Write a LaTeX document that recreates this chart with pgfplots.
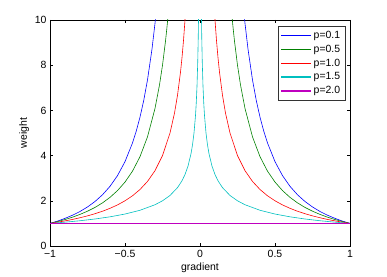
\documentclass[border=0pt]{standalone}
\usepackage{fontspec}
\setmainfont{Liberation Sans}
\usepackage{pgfplots}
\pgfplotsset{compat=1.18}
\definecolor{mblue}{rgb}{0,0,1}
\definecolor{mgreen}{rgb}{0,0.5,0}
\definecolor{mred}{rgb}{1,0,0}
\definecolor{mcyan}{rgb}{0,0.75,0.75}
\definecolor{mmag}{rgb}{0.75,0,0.75}
\begin{document}
\begin{tikzpicture}
\begin{axis}[
 scale only axis, width=300bp, height=226bp,
 xmin=-1,xmax=1,ymin=0,ymax=10,
 xtick={-1,-0.5,0,0.5,1}, xticklabels={−1,−0.5,0,0.5,1},
 ytick={0,2,4,6,8,10}, yticklabels={0,2,4,6,8,10},
 font=\fontsize{10.5}{12}\selectfont,
 tick label style={font=\fontsize{10.5}{12}\selectfont},
 xticklabel style={yshift=-1bp},
 xlabel={gradient}, ylabel={weight},
 xlabel style={yshift=2bp},
 ylabel style={yshift=-1bp},
 major tick length=3bp,
 tick style={black, line width=0.4pt},
 axis line style={line width=0.5pt},
 unbounded coords=jump,
 legend style={at={(rel axis cs:0.983,0.973)}, anchor=north east, draw=black!80, font=\fontsize{10.5}{12}\selectfont, row sep=1.2bp, inner sep=2.5bp},
 legend cell align=left,
 legend image code/.code={\draw[#1,line width=1.3pt] (0bp,0bp) -- (30bp,0bp);},
]
\addplot[draw=mblue, line width=0.6pt] coordinates {(-1,1) (-0.95,1.102) (-0.9,1.222) (-0.85,1.362) (-0.8,1.528) (-0.75,1.727) (-0.7,1.969) (-0.65,2.267) (-0.6,2.640) (-0.55,3.114) (-0.5,3.732) (-0.45,4.560) (-0.425,5.083) (-0.4,5.703) (-0.375,6.446) (-0.35,7.350) (-0.32,8.713) (-0.3,9.851) (-0.29,10.51) (0,nan)
 (0.29,10.51) (0.3,9.851) (0.32,8.713) (0.35,7.350) (0.375,6.446) (0.4,5.703) (0.425,5.083) (0.45,4.560) (0.5,3.732) (0.55,3.114) (0.6,2.640) (0.65,2.267) (0.7,1.969) (0.75,1.727) (0.8,1.528) (0.85,1.362) (0.9,1.222) (0.95,1.102) (1,1)};
\addlegendentry{p=0.1}
\addplot[draw=mgreen, line width=0.6pt] coordinates {(-1,1) (-0.95,1.080) (-0.9,1.171) (-0.85,1.276) (-0.8,1.398) (-0.75,1.540) (-0.7,1.707) (-0.65,1.908) (-0.6,2.152) (-0.55,2.452) (-0.5,2.828) (-0.45,3.313) (-0.4,3.953) (-0.35,4.830) (-0.3,6.086) (-0.27,7.128) (-0.25,8) (-0.23,9.066) (-0.22,9.691) (-0.21,10.39) (0,nan)
 (0.21,10.39) (0.22,9.691) (0.23,9.066) (0.25,8) (0.27,7.128) (0.3,6.086) (0.35,4.830) (0.4,3.953) (0.45,3.313) (0.5,2.828) (0.55,2.452) (0.6,2.152) (0.65,1.908) (0.7,1.707) (0.75,1.540) (0.8,1.398) (0.85,1.276) (0.9,1.171) (0.95,1.080) (1,1)};
\addlegendentry{p=0.5}
\addplot[draw=mred, line width=0.6pt] coordinates {(-1,1) (-0.95,1.053) (-0.9,1.111) (-0.85,1.176) (-0.8,1.25) (-0.75,1.333) (-0.7,1.429) (-0.65,1.538) (-0.6,1.667) (-0.55,1.818) (-0.5,2) (-0.45,2.222) (-0.4,2.5) (-0.35,2.857) (-0.3,3.333) (-0.25,4) (-0.2,5) (-0.17,5.882) (-0.15,6.667) (-0.13,7.692) (-0.12,8.333) (-0.11,9.091) (-0.1,10) (-0.095,10.53) (0,nan)
 (0.095,10.53) (0.1,10) (0.11,9.091) (0.12,8.333) (0.13,7.692) (0.15,6.667) (0.17,5.882) (0.2,5) (0.25,4) (0.3,3.333) (0.35,2.857) (0.4,2.5) (0.45,2.222) (0.5,2) (0.55,1.818) (0.6,1.667) (0.65,1.538) (0.7,1.429) (0.75,1.333) (0.8,1.25) (0.85,1.176) (0.9,1.111) (0.95,1.053) (1,1)};
\addlegendentry{p=1.0}
\addplot[draw=mcyan, line width=0.6pt] coordinates {(-1,1) (-0.9,1.054) (-0.8,1.118) (-0.7,1.195) (-0.6,1.291) (-0.5,1.414) (-0.4,1.581) (-0.3,1.826) (-0.25,2) (-0.2,2.236) (-0.15,2.582) (-0.12,2.887) (-0.1,3.162) (-0.08,3.536) (-0.06,4.082) (-0.05,4.472) (-0.04,5) (-0.03,5.774) (-0.025,6.325) (-0.02,7.071) (-0.015,8.165) (-0.012,9.129) (-0.01,10) (-0.0095,10.26) (0,nan)
 (0.0095,10.26) (0.01,10) (0.012,9.129) (0.015,8.165) (0.02,7.071) (0.025,6.325) (0.03,5.774) (0.04,5) (0.05,4.472) (0.06,4.082) (0.08,3.536) (0.1,3.162) (0.12,2.887) (0.15,2.582) (0.2,2.236) (0.25,2) (0.3,1.826) (0.4,1.581) (0.5,1.414) (0.6,1.291) (0.7,1.195) (0.8,1.118) (0.9,1.054) (1,1)};
\addlegendentry{p=1.5}
\addplot[draw=mmag, line width=1.3pt] coordinates {(-1,1) (-0.5,1) (0,1) (0.5,1) (1,1)};
\addlegendentry{p=2.0}
\end{axis}
\path (current axis.south west) +(-50bp,-31bp) rectangle +(337bp,246bp);
\end{tikzpicture}
\end{document}
